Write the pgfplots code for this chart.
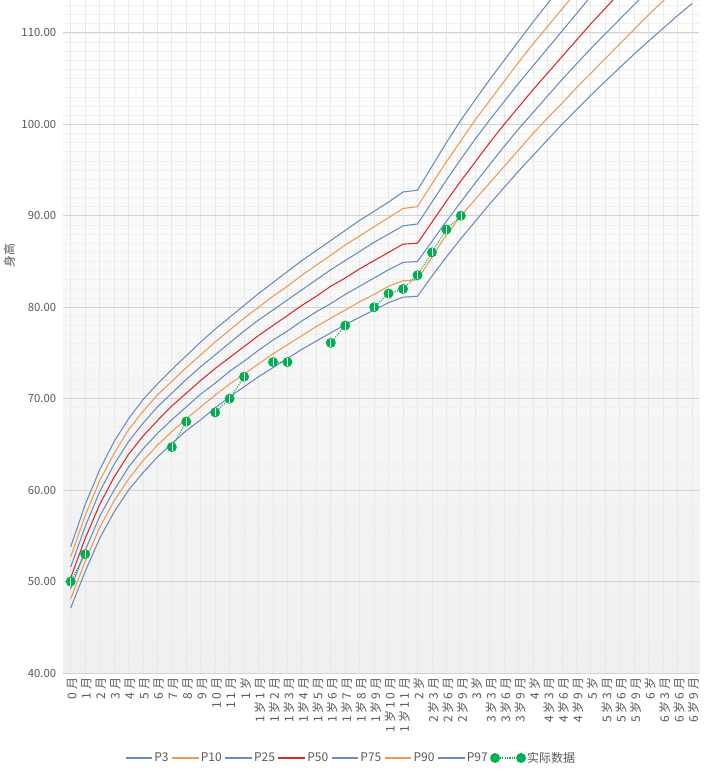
\documentclass[border=0pt]{standalone}
\usepackage{fontspec}
\setmainfont{Noto Sans CJK SC}
\newfontfamily\xlabfont[LetterSpace=22]{Noto Sans CJK SC}
\usepackage{pgfplots}
\pgfplotsset{compat=1.18}
\usepackage{pgfplotstable}

\definecolor{pblue}{HTML}{6A8DBF}
\definecolor{porange}{HTML}{EE9A55}
\definecolor{pred}{HTML}{E0282C}
\definecolor{pgreen}{HTML}{00B050}
\definecolor{tgray}{HTML}{595959}

\pgfplotsset{
  linelegend/.style={legend image code/.code={\draw[##1] (0pt,0pt) -- (20pt,0pt);}},
  dotlegend/.style={legend image code/.code={\draw[##1] plot coordinates {(0pt,0pt) (19.5pt,0pt)};}},
}

\pgfplotstableread{
i P3 P10 P25 P50 P75 P90 P97 act
0 47.1 48.1 49.2 50.4 51.6 52.7 53.8 50.0
1 51.1 52.2 53.4 54.7 56.0 57.2 58.4 53.0
2 54.7 55.9 57.1 58.4 59.8 61.0 62.2 nan
3 57.6 58.8 60.0 61.4 62.8 64.0 65.3 nan
4 60.0 61.2 62.5 63.9 65.3 66.6 67.8 nan
5 61.9 63.2 64.5 65.9 67.3 68.6 69.9 nan
6 63.6 64.9 66.2 67.6 69.1 70.4 71.6 nan
7 65.1 66.4 67.7 69.2 70.6 71.9 73.2 64.7
8 66.5 67.8 69.1 70.6 72.1 73.4 74.7 67.5
9 67.7 69.1 70.5 72.0 73.5 74.8 76.2 nan
10 69.0 70.4 71.7 73.3 74.8 76.2 77.6 68.5
11 70.2 71.6 73.0 74.5 76.1 77.5 78.9 70.0
12 71.3 72.7 74.1 75.7 77.4 78.8 80.2 72.4
13 72.4 73.8 75.3 76.9 78.6 80.0 81.5 nan
14 73.4 74.9 76.4 78.0 79.7 81.2 82.7 74.0
15 74.4 75.9 77.4 79.1 80.8 82.3 83.9 74.0
16 75.4 76.9 78.5 80.2 81.9 83.5 85.1 nan
17 76.3 77.9 79.5 81.2 83.0 84.6 86.2 nan
18 77.2 78.8 80.4 82.3 84.1 85.7 87.3 76.1
19 78.1 79.7 81.4 83.2 85.1 86.8 88.4 78.0
20 78.9 80.6 82.3 84.2 86.1 87.8 89.5 nan
21 79.7 81.4 83.2 85.1 87.1 88.8 90.5 80.0
22 80.5 82.3 84.1 86.0 88.0 89.8 91.5 81.5
23 81.1 82.9 84.9 86.9 88.9 90.8 92.6 82.0
24 81.2 83.0 85.0 87.0 89.1 91.0 92.8 83.5
25 83.4 85.5 87.2 89.3 91.5 93.5 95.4 86.0
26 85.5 87.9 89.4 91.6 93.9 95.9 98.0 88.5
27 87.5 90.0 91.5 93.8 96.2 98.2 100.45 90.0
28 89.4 91.8 93.6 95.9 98.4 100.5 102.7 nan
29 91.3 93.6 95.6 98.0 100.5 102.6 104.9 nan
30 93.1 95.4 97.6 100.0 102.5 104.7 107.0 nan
31 94.9 97.2 99.5 101.9 104.5 106.8 109.1 nan
32 96.6 99.0 101.3 103.8 106.4 108.8 111.2 nan
33 98.3 100.7 103.1 105.6 108.3 110.7 113.2 nan
34 100.0 102.3 104.9 107.4 110.2 112.6 115.2 nan
35 101.6 104.0 106.6 109.2 112.1 114.5 117.1 nan
36 103.2 105.6 108.3 111.0 114.0 116.4 119.0 nan
37 104.7 107.2 109.9 112.7 115.9 118.2 120.9 nan
38 106.2 108.8 111.5 114.4 117.8 120.0 122.8 nan
39 107.7 110.4 113.1 116.1 119.6 121.8 124.6 nan
40 109.1 112.0 114.7 117.8 121.4 123.6 126.4 nan
41 110.5 113.5 116.3 119.5 123.2 125.4 128.2 nan
42 111.9 115.0 117.9 121.2 125.0 127.2 130.0 nan
43 113.2 116.5 119.5 122.9 126.8 129.0 131.8 nan
}\datatable

\begin{document}
\begin{tikzpicture}
\path[use as bounding box] (0,0) rectangle (529.5pt,584.25pt);
\begin{axis}[
  at={(47.6pt,79.5pt)}, anchor=south west,
  scale only axis, width=476.85pt, height=504.75pt,
  xmin=-0.5, xmax=43.5, ymin=40, ymax=113.6,
  unbounded coords=jump,
  xtick={0,...,43},
  xticklabels={0月,1月,2月,3月,4月,5月,6月,7月,8月,9月,10月,11月,1岁,1岁1月,1岁2月,1岁3月,1岁4月,1岁5月,1岁6月,1岁7月,1岁8月,1岁9月,1岁10月,1岁11月,2岁,2岁3月,2岁6月,2岁9月,3岁,3岁3月,3岁6月,3岁9月,4岁,4岁3月,4岁6月,4岁9月,5岁,5岁3月,5岁6月,5岁9月,6岁,6岁3月,6岁6月,6岁9月},
  ytick={40,50,...,110},
  minor ytick={41,...,113},
  yticklabel={\pgfmathprintnumber[fixed,fixed zerofill,precision=2]{\tick}},
  /pgf/number format/assume math mode=true,
  xmajorgrids, ymajorgrids, yminorgrids,
  x grid style={color=black!9, line width=0.6pt},
  y grid style={color=black!17, line width=0.7pt},
  minor y grid style={color=black!6, line width=0.5pt},
  major tick length=0pt, minor tick length=0pt,
  axis line style={draw=none},
  axis background/.style={top color=white, bottom color=black!6},
  tick label style={font=\fontsize{8.5}{10}\selectfont, text=tgray},
  xticklabel style={rotate=90, anchor=east, yshift=-1pt, font=\xlabfont\fontsize{9}{10}\selectfont},
  yticklabel style={xshift=-2pt},
  ylabel={身高},
  ylabel style={at={(axis description cs:-0.085,0.621)}, anchor=center, font=\fontsize{9}{10}\selectfont, text=tgray},
  linelegend,
  legend style={at={(0.452,-0.1263)}, anchor=center, draw=none, fill=none,
    legend columns=8, font=\fontsize{9}{10}\selectfont, text=tgray,
    /tikz/every even column/.append style={column sep=1pt},
    nodes={inner sep=1.2pt}},
]
\addplot[pblue, line width=0.8pt] table[x=i,y=P3]{\datatable};
\addlegendentry{P3}
\addplot[porange, line width=0.8pt] table[x=i,y=P10]{\datatable};
\addlegendentry{P10}
\addplot[pblue, line width=0.8pt] table[x=i,y=P25]{\datatable};
\addlegendentry{P25}
\addplot[pred, line width=0.8pt] table[x=i,y=P50]{\datatable};
\addlegendentry{P50}
\addplot[pblue, line width=0.8pt] table[x=i,y=P75]{\datatable};
\addlegendentry{P75}
\addplot[porange, line width=0.8pt] table[x=i,y=P90]{\datatable};
\addlegendentry{P90}
\addplot[pblue, line width=0.8pt] table[x=i,y=P97]{\datatable};
\addlegendentry{P97}
\addplot[pgreen, densely dotted, line width=0.8pt, mark=*, mark size=3.3pt,
  mark options={solid, fill=pgreen, draw=pgreen}, dotlegend]
  table[x=i,y=act]{\datatable};
\addlegendentry{实际数据}
\addplot[forget plot, only marks, mark=|, mark size=3pt, mark options={white, line width=0.5pt}]
  table[x=i,y=act]{\datatable};
\end{axis}
\end{tikzpicture}
\end{document}
